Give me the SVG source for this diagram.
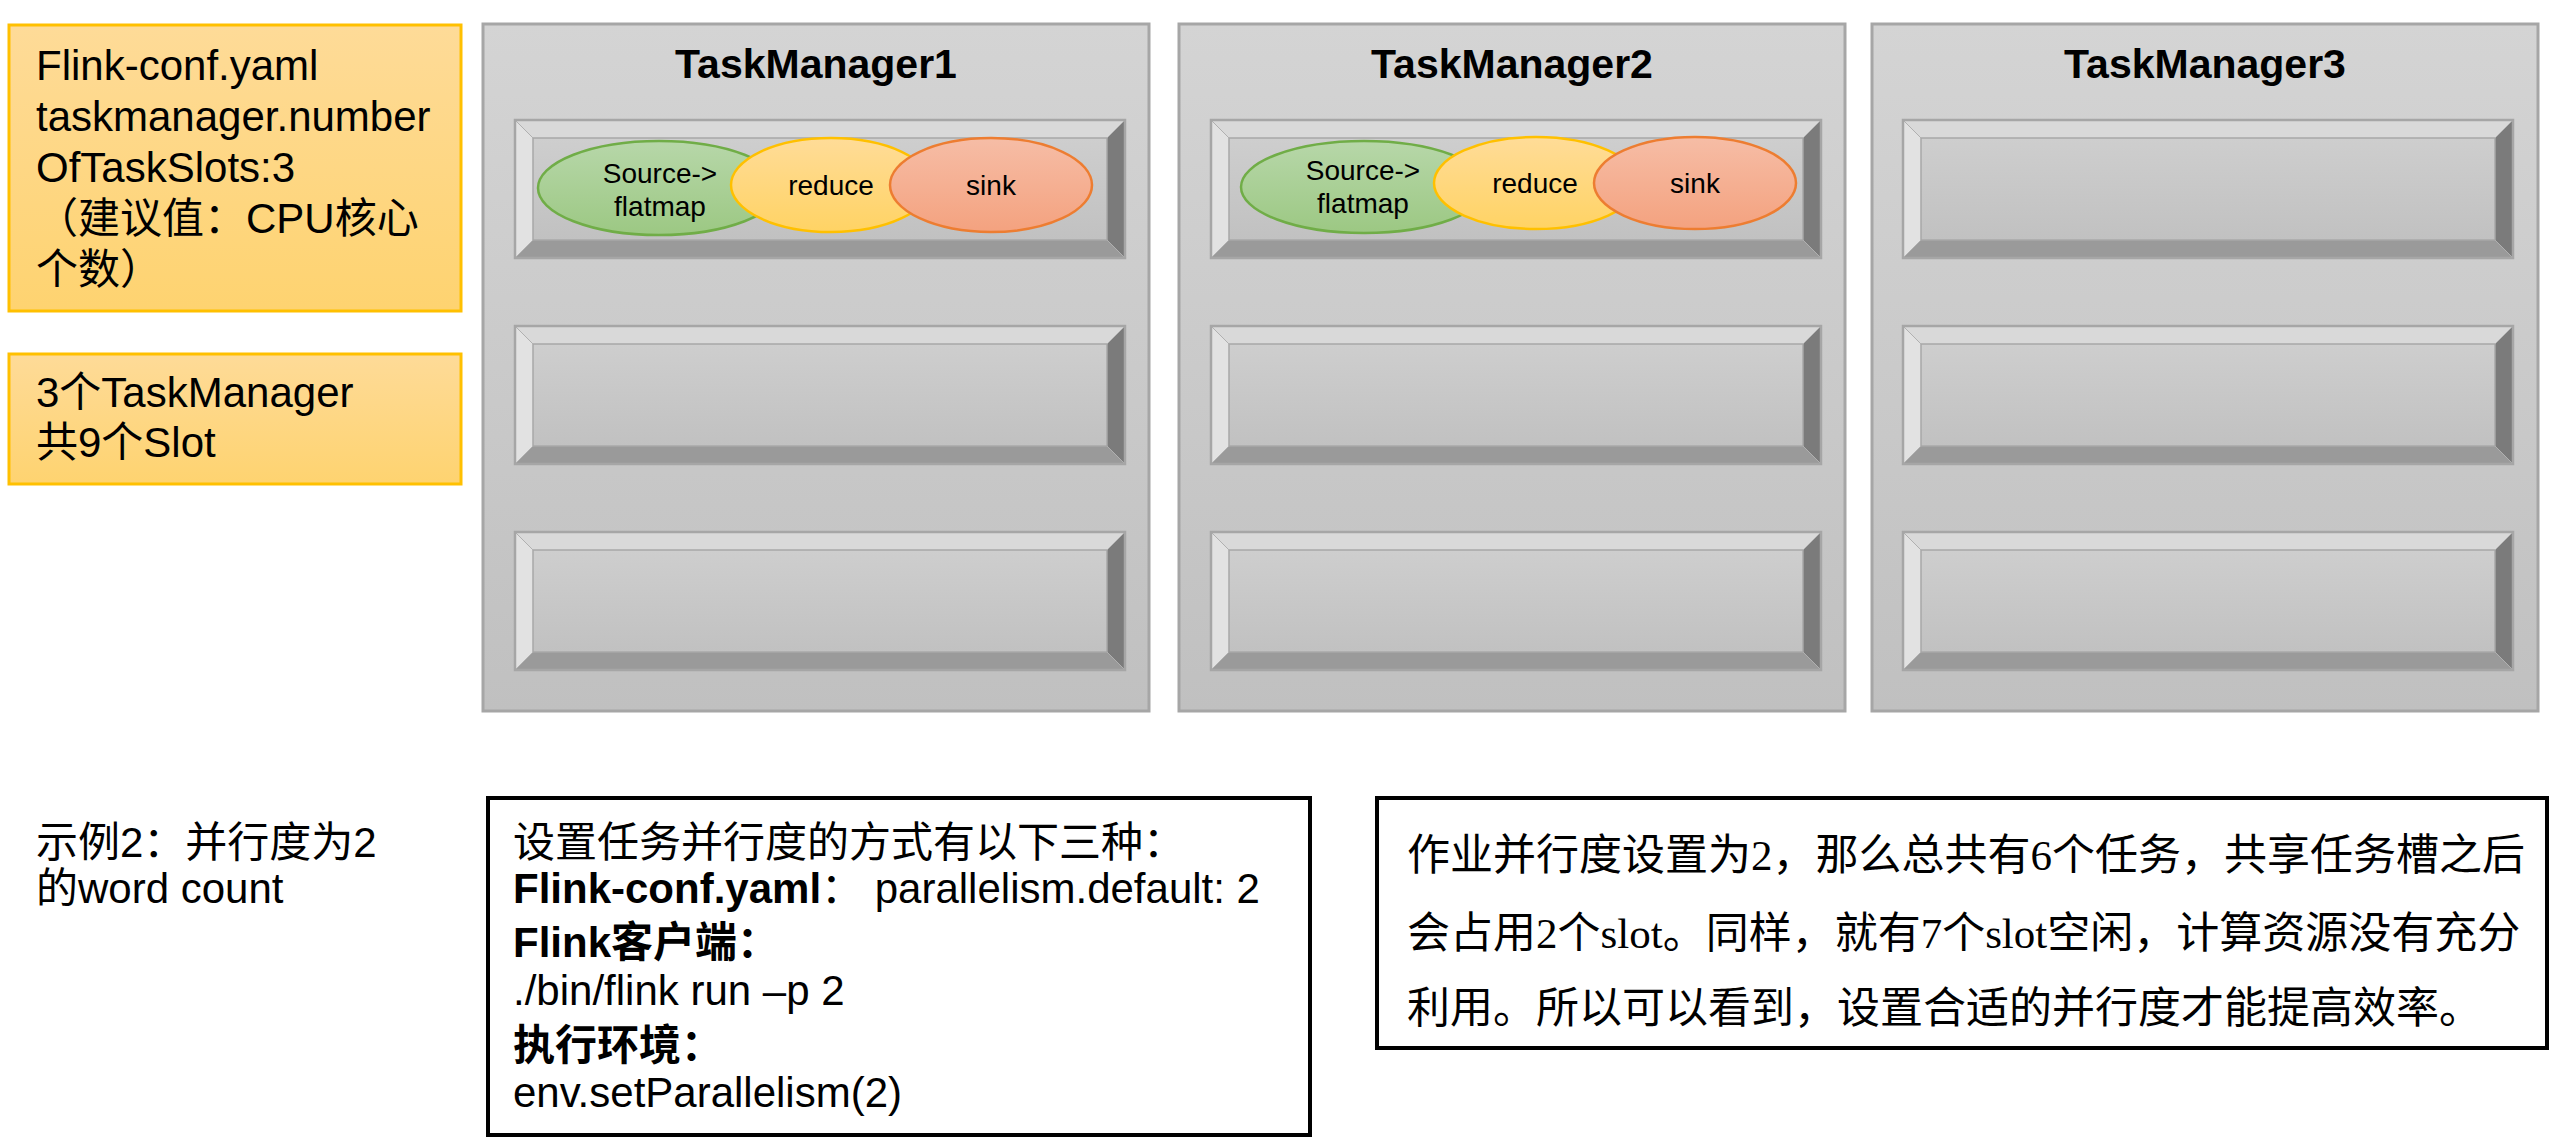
<svg xmlns="http://www.w3.org/2000/svg" xmlns:xlink="http://www.w3.org/1999/xlink" width="2550" height="1141" viewBox="0 0 2550 1141">
<defs>
<linearGradient id="gTM" x1="0" y1="0" x2="0" y2="1"><stop offset="0" stop-color="#d4d4d4"/><stop offset="1" stop-color="#c0c0c0"/></linearGradient>
<linearGradient id="gOr" x1="0" y1="0" x2="0" y2="1"><stop offset="0" stop-color="#fedb98"/><stop offset="1" stop-color="#fed370"/></linearGradient>
<linearGradient id="gSlot" x1="0" y1="0" x2="0" y2="1"><stop offset="0" stop-color="#cecece"/><stop offset="1" stop-color="#c1c1c1"/></linearGradient>
<linearGradient id="gGreen" x1="0" y1="0" x2="0" y2="1"><stop offset="0" stop-color="#b7d7a9"/><stop offset="1" stop-color="#9cc883"/></linearGradient>
<linearGradient id="gYel" x1="0" y1="0" x2="0" y2="1"><stop offset="0" stop-color="#ffdc98"/><stop offset="1" stop-color="#ffd364"/></linearGradient>
<linearGradient id="gSink" x1="0" y1="0" x2="0" y2="1"><stop offset="0" stop-color="#f6bda6"/><stop offset="1" stop-color="#f4a27f"/></linearGradient>
<g id="slot">
<polygon points="0,0 610,0 592,18 18,18" fill="#d9d9d9"/>
<polygon points="0,0 18,18 18,120 0,138" fill="#e2e2e2"/>
<polygon points="610,0 610,138 592,120 592,18" fill="#7b7b7b"/>
<polygon points="0,138 18,120 592,120 610,138" fill="#9a9a9a"/>
<rect x="18" y="18" width="574" height="102" fill="url(#gSlot)" stroke="#a8a8a8" stroke-width="1.5"/>
<line x1="0" y1="0" x2="18" y2="18" stroke="#b0b0b0" stroke-width="1"/>
<line x1="610" y1="0" x2="592" y2="18" stroke="#b0b0b0" stroke-width="1"/>
<line x1="0" y1="138" x2="18" y2="120" stroke="#b0b0b0" stroke-width="1"/>
<line x1="610" y1="138" x2="592" y2="120" stroke="#b0b0b0" stroke-width="1"/>
<rect x="0" y="0" width="610" height="138" fill="none" stroke="#a6a6a6" stroke-width="2.5"/>
</g>
</defs>
<style>
.tm{fill:url(#gTM);stroke:#a6a6a6;stroke-width:3}
.or{fill:url(#gOr);stroke:#ffc000;stroke-width:3}
.title{font-family:"Liberation Sans","Noto Sans CJK SC",sans-serif;font-weight:bold;font-size:41px;fill:#000;text-anchor:middle}
.t{font-family:"Liberation Sans","Noto Sans CJK SC",sans-serif;font-size:42px;fill:#000}
.b{font-weight:bold}
.et{font-family:"Liberation Sans","Noto Sans CJK SC",sans-serif;font-size:28px;fill:#000;text-anchor:middle}
.green{fill:url(#gGreen);stroke:#70ad47;stroke-width:2.5}
.yel{fill:url(#gYel);stroke:#ffc000;stroke-width:2.5}
.sink{fill:url(#gSink);stroke:#ed7d31;stroke-width:2.5}
.box{fill:#fff;stroke:#000;stroke-width:4}
.serif{font-family:"Liberation Serif","Noto Sans CJK SC",serif;font-size:43px;fill:#000}
</style>
<rect width="2550" height="1141" fill="#fff"/>

<g id="config-note">
<rect class="or" x="9" y="25" width="452" height="286"/>
<text class="t" x="36" y="80">Flink-conf.yaml</text>
<text class="t" x="36" y="131">taskmanager.number</text>
<text class="t" x="36" y="182">OfTaskSlots:3</text>
<text class="t" x="36" y="233">（建议值：CPU核心</text>
<text class="t" x="36" y="284">个数）</text>
</g>

<g id="slots-note">
<rect class="or" x="9" y="354" width="452" height="130"/>
<text class="t" x="36" y="407">3个TaskManager</text>
<text class="t" x="36" y="457">共9个Slot</text>
</g>

<g id="taskmanager1">
<rect class="tm" x="483" y="24" width="666" height="687"/>
<text class="title" x="816" y="78">TaskManager1</text>
<use xlink:href="#slot" x="515" y="120"/>
<use xlink:href="#slot" x="515" y="326"/>
<use xlink:href="#slot" x="515" y="532"/>
<g id="tm1-source">
<ellipse class="green" cx="659" cy="188" rx="121" ry="47"/>
<text class="et" x="660" y="183">Source-&gt;</text>
<text class="et" x="660" y="216">flatmap</text>
</g>
<g id="tm1-reduce">
<ellipse class="yel" cx="831" cy="185" rx="100" ry="47"/>
<text class="et" x="831" y="195">reduce</text>
</g>
<g id="tm1-sink">
<ellipse class="sink" cx="991" cy="185" rx="101" ry="47"/>
<text class="et" x="991" y="195">sink</text>
</g>
</g>

<g id="taskmanager2">
<rect class="tm" x="1179" y="24" width="666" height="687"/>
<text class="title" x="1512" y="78">TaskManager2</text>
<use xlink:href="#slot" x="1211" y="120"/>
<use xlink:href="#slot" x="1211" y="326"/>
<use xlink:href="#slot" x="1211" y="532"/>
<g id="tm2-source">
<ellipse class="green" cx="1364" cy="187" rx="123" ry="46"/>
<text class="et" x="1363" y="180">Source-&gt;</text>
<text class="et" x="1363" y="213">flatmap</text>
</g>
<g id="tm2-reduce">
<ellipse class="yel" cx="1536" cy="183" rx="102" ry="46"/>
<text class="et" x="1535" y="193">reduce</text>
</g>
<g id="tm2-sink">
<ellipse class="sink" cx="1695" cy="183" rx="101" ry="46"/>
<text class="et" x="1695" y="193">sink</text>
</g>
</g>

<g id="taskmanager3">
<rect class="tm" x="1872" y="24" width="666" height="687"/>
<text class="title" x="2205" y="78">TaskManager3</text>
<use xlink:href="#slot" x="1903" y="120"/>
<use xlink:href="#slot" x="1903" y="326"/>
<use xlink:href="#slot" x="1903" y="532"/>
</g>

<g id="example-label">
<text class="t" x="36" y="857">示例2：并行度为2</text>
<text class="t" x="36" y="903">的word count</text>
</g>

<g id="parallelism-methods">
<rect class="box" x="488" y="798" width="822" height="337"/>
<text class="t" x="513" y="857">设置任务并行度的方式有以下三种：</text>
<text class="t" x="513" y="903" xml:space="preserve"><tspan class="b">Flink-conf.yaml</tspan>： parallelism.default: 2</text>
<text class="t b" x="513" y="957">Flink客户端：</text>
<text class="t" x="513" y="1005">./bin/flink run –p 2</text>
<text class="t b" x="513" y="1060">执行环境：</text>
<text class="t" x="513" y="1107">env.setParallelism(2)</text>
</g>

<g id="explanation">
<rect class="box" x="1377" y="798" width="1170" height="250"/>
<text class="serif" x="1407" y="870">作业并行度设置为2，那么总共有6个任务，共享任务槽之后</text>
<text class="serif" x="1407" y="948">会占用2个slot。同样，就有7个slot空闲，计算资源没有充分</text>
<text class="serif" x="1407" y="1023">利用。所以可以看到，设置合适的并行度才能提高效率。</text>
</g>
</svg>
